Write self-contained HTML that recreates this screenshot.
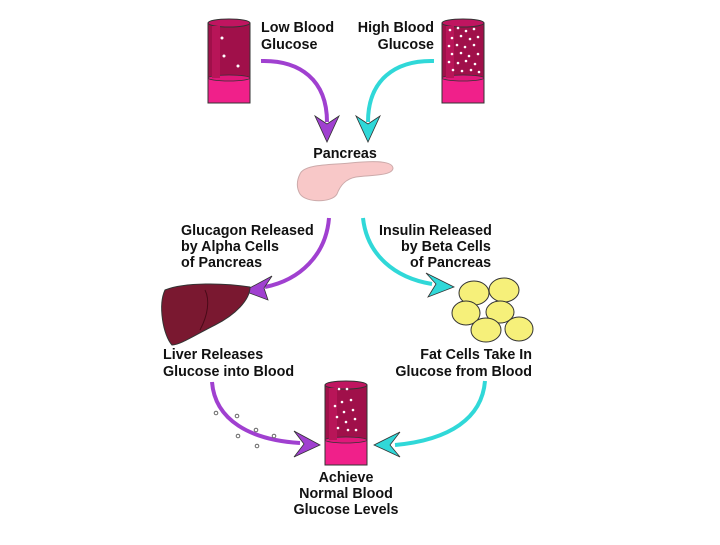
<!DOCTYPE html>
<html><head><style>
html,body{margin:0;padding:0;background:#fff;}
svg text{font-family:"Liberation Sans",sans-serif;font-weight:bold;font-size:14.3px;fill:#111;}
</style></head><body>
<svg width="720" height="540" viewBox="0 0 720 540">
<defs>
<g id="tube">
<rect x="0" y="5" width="42" height="80" fill="#a0104a" stroke="#333" stroke-width="1"/>
<rect x="0" y="60" width="42" height="25" fill="#f0208a" stroke="#333" stroke-width="1"/>
<ellipse cx="21" cy="60" rx="21" ry="3" fill="#e0187a" stroke="#333" stroke-width="0.8"/>
<ellipse cx="21" cy="5" rx="21" ry="4" fill="#c01560" stroke="#333" stroke-width="1"/>
<rect x="4" y="8" width="8" height="52" fill="#b81558"/>
</g>
</defs>
<use href="#tube" x="208" y="18"/>
<circle cx="222" cy="38" r="1.5" fill="#fff"/><circle cx="224" cy="56" r="1.5" fill="#fff"/><circle cx="238" cy="66" r="1.5" fill="#fff"/>
<use href="#tube" x="442" y="18"/>
<g fill="#fff">
<circle cx="450" cy="30" r="1.3"/><circle cx="458" cy="28" r="1.3"/><circle cx="466" cy="31" r="1.3"/><circle cx="474" cy="29" r="1.3"/>
<circle cx="452" cy="38" r="1.3"/><circle cx="461" cy="36" r="1.3"/><circle cx="470" cy="39" r="1.3"/><circle cx="478" cy="37" r="1.3"/>
<circle cx="449" cy="46" r="1.3"/><circle cx="457" cy="45" r="1.3"/><circle cx="465" cy="47" r="1.3"/><circle cx="474" cy="45" r="1.3"/>
<circle cx="452" cy="54" r="1.3"/><circle cx="461" cy="53" r="1.3"/><circle cx="469" cy="56" r="1.3"/><circle cx="478" cy="54" r="1.3"/>
<circle cx="449" cy="62" r="1.3"/><circle cx="458" cy="63" r="1.3"/><circle cx="466" cy="61" r="1.3"/><circle cx="475" cy="64" r="1.3"/>
<circle cx="453" cy="70" r="1.3"/><circle cx="462" cy="71" r="1.3"/><circle cx="471" cy="70" r="1.3"/><circle cx="479" cy="72" r="1.3"/>
</g>
<use href="#tube" x="325" y="380"/>
<g fill="#fff">
<circle cx="339" cy="389" r="1.3"/><circle cx="347" cy="389" r="1.3"/><circle cx="351" cy="400" r="1.3"/><circle cx="342" cy="402" r="1.3"/>
<circle cx="335" cy="406" r="1.3"/><circle cx="353" cy="410" r="1.3"/><circle cx="344" cy="412" r="1.3"/><circle cx="337" cy="417" r="1.3"/>
<circle cx="355" cy="419" r="1.3"/><circle cx="346" cy="422" r="1.3"/><circle cx="338" cy="428" r="1.3"/><circle cx="348" cy="430" r="1.3"/><circle cx="356" cy="430" r="1.3"/>
</g>
<text x="261" y="32">Low Blood</text><text x="261" y="49">Glucose</text>
<text x="434" y="32" text-anchor="end">High Blood</text><text x="434" y="49" text-anchor="end">Glucose</text>
<text x="345" y="158" text-anchor="middle">Pancreas</text>
<text x="181" y="235">Glucagon Released</text><text x="181" y="251">by Alpha Cells</text><text x="181" y="267">of Pancreas</text>
<text x="379" y="235">Insulin Released</text><text x="401" y="251">by Beta Cells</text><text x="410" y="267">of Pancreas</text>
<text x="163" y="359">Liver Releases</text><text x="163" y="376">Glucose into Blood</text>
<text x="532" y="359" text-anchor="end">Fat Cells Take In</text><text x="532" y="376" text-anchor="end">Glucose from Blood</text>
<text x="346" y="482" text-anchor="middle">Achieve</text><text x="346" y="498" text-anchor="middle">Normal Blood</text><text x="346" y="514" text-anchor="middle">Glucose Levels</text>
<g fill="none" stroke-width="4">
<path d="M261 61 C300 60 327 80 327 122" stroke="#a040d0"/>
<path d="M434 61 C395 60 368 80 368 122" stroke="#30d8d8"/>
<path d="M329 218 C326 255 300 280 265 287" stroke="#a040d0"/>
<path d="M363 218 C367 255 395 278 432 284" stroke="#30d8d8"/>
<path d="M212 382 C215 420 250 440 300 443" stroke="#a040d0"/>
<path d="M485 381 C482 418 450 440 395 445" stroke="#30d8d8"/>
</g>
<g stroke="#333" stroke-width="0.8">
<path d="M315 116 L327 124 L339 116 L327 142 Z" fill="#a040d0"/>
<path d="M356 116 L368 124 L380 116 L368 142 Z" fill="#30d8d8"/>
<path d="M272 276 L264 288 L268 300 L244 291 Z" fill="#a040d0"/>
<path d="M426 273 L436 284 L428 297 L454 287 Z" fill="#30d8d8"/>
<path d="M294 431 L304 444 L294 457 L320 445 Z" fill="#a040d0"/>
<path d="M400 432 L390 445 L400 457 L374 445 Z" fill="#30d8d8"/>
</g>
<g fill="none" stroke="#666" stroke-width="1">
<circle cx="216" cy="413" r="1.8"/><circle cx="237" cy="416" r="1.8"/><circle cx="256" cy="430" r="1.8"/><circle cx="274" cy="436" r="1.8"/><circle cx="238" cy="436" r="1.8"/><circle cx="257" cy="446" r="1.8"/>
</g>
<path d="M300 174 C304 164 330 165 350 163 C370 161 392 160 393 168 C393 176 370 175 356 177 C345 179 340 186 337 194 C332 203 306 203 300 194 C296 187 297 180 300 174 Z" fill="#f8c8c8" stroke="#caa" stroke-width="1"/>
<path d="M165 290 C185 282 225 283 250 287 C250 300 235 315 215 325 C195 335 180 345 172 345 C163 335 158 305 165 290 Z" fill="#7a1830" stroke="#333" stroke-width="1"/>
<path d="M205 290 C210 300 208 315 200 330" fill="none" stroke="#4a0a18" stroke-width="1"/>
<g fill="#f6f07a" stroke="#333" stroke-width="1">
<ellipse cx="474" cy="293" rx="15" ry="12"/>
<ellipse cx="504" cy="290" rx="15" ry="12"/>
<ellipse cx="466" cy="313" rx="14" ry="12"/>
<ellipse cx="500" cy="312" rx="14" ry="11"/>
<ellipse cx="486" cy="330" rx="15" ry="12"/>
<ellipse cx="519" cy="329" rx="14" ry="12"/>
</g>
</svg>
</body></html>
